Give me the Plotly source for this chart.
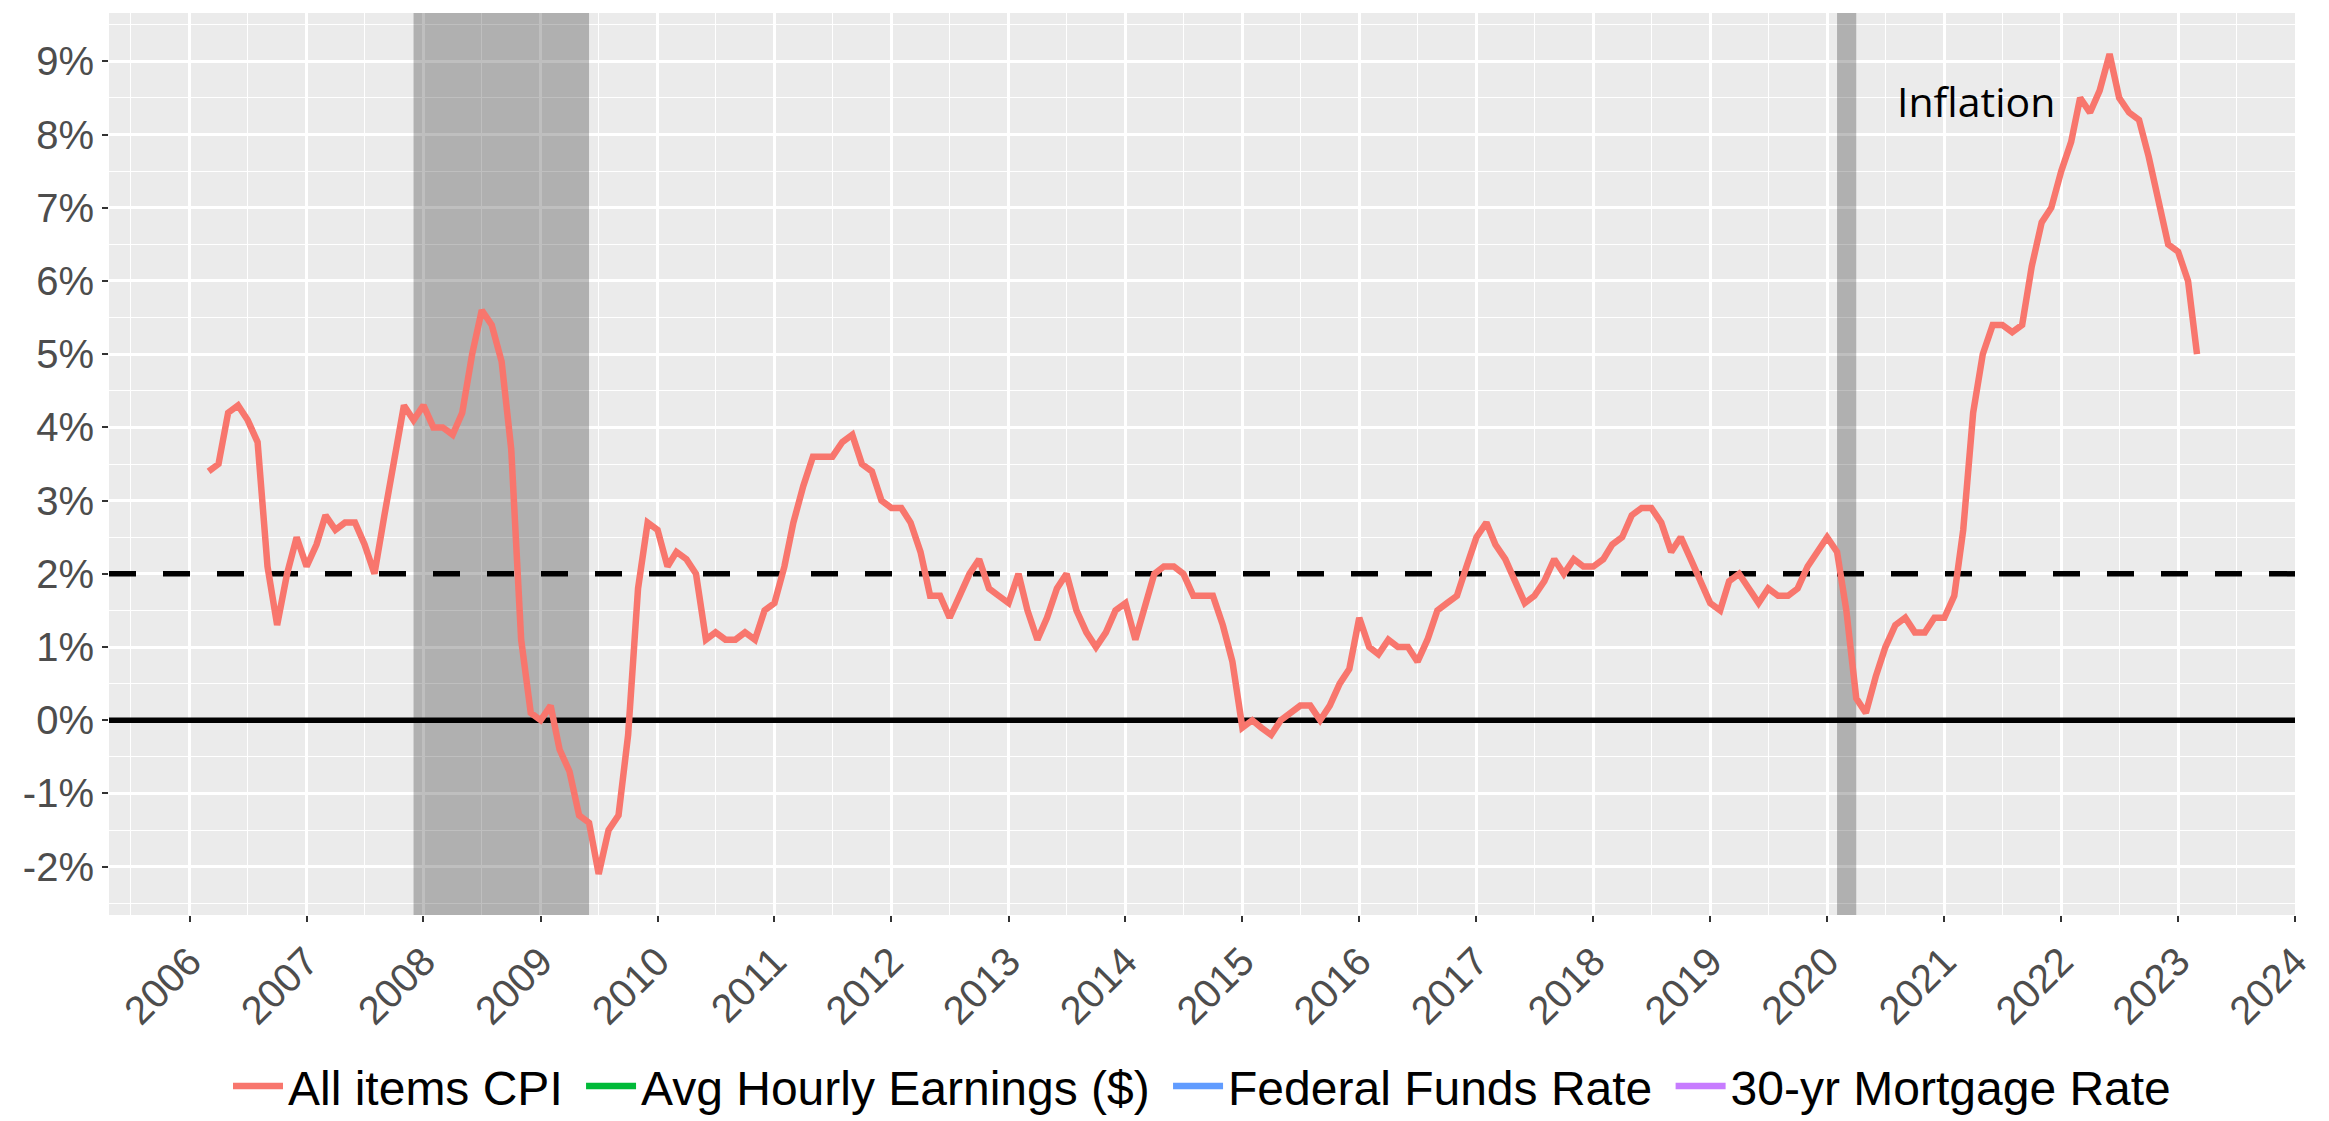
import pandas as pd
import plotly.graph_objects as go

# ---- data ----
start_month = "2006-03-01"
cpi_yoy = [
    # 2006 (Mar-Dec)
    3.4, 3.5, 4.2, 4.3, 4.1, 3.8, 2.1, 1.3, 2.0, 2.5,
    # 2007
    2.1, 2.4, 2.8, 2.6, 2.7, 2.7, 2.4, 2.0, 2.8, 3.5, 4.3, 4.1,
    # 2008
    4.3, 4.0, 4.0, 3.9, 4.2, 5.0, 5.6, 5.4, 4.9, 3.7, 1.1, 0.1,
    # 2009
    0.0, 0.2, -0.4, -0.7, -1.3, -1.4, -2.1, -1.5, -1.3, -0.2, 1.8, 2.7,
    # 2010
    2.6, 2.1, 2.3, 2.2, 2.0, 1.1, 1.2, 1.1, 1.1, 1.2, 1.1, 1.5,
    # 2011
    1.6, 2.1, 2.7, 3.2, 3.6, 3.6, 3.6, 3.8, 3.9, 3.5, 3.4, 3.0,
    # 2012
    2.9, 2.9, 2.7, 2.3, 1.7, 1.7, 1.4, 1.7, 2.0, 2.2, 1.8, 1.7,
    # 2013
    1.6, 2.0, 1.5, 1.1, 1.4, 1.8, 2.0, 1.5, 1.2, 1.0, 1.2, 1.5,
    # 2014
    1.6, 1.1, 1.5, 2.0, 2.1, 2.1, 2.0, 1.7, 1.7, 1.7, 1.3, 0.8,
    # 2015
    -0.1, 0.0, -0.1, -0.2, 0.0, 0.1, 0.2, 0.2, 0.0, 0.2, 0.5, 0.7,
    # 2016
    1.4, 1.0, 0.9, 1.1, 1.0, 1.0, 0.8, 1.1, 1.5, 1.6, 1.7, 2.1,
    # 2017
    2.5, 2.7, 2.4, 2.2, 1.9, 1.6, 1.7, 1.9, 2.2, 2.0, 2.2, 2.1,
    # 2018
    2.1, 2.2, 2.4, 2.5, 2.8, 2.9, 2.9, 2.7, 2.3, 2.5, 2.2, 1.9,
    # 2019
    1.6, 1.5, 1.9, 2.0, 1.8, 1.6, 1.8, 1.7, 1.7, 1.8, 2.1, 2.3,
    # 2020
    2.5, 2.3, 1.5, 0.3, 0.1, 0.6, 1.0, 1.3, 1.4, 1.2, 1.2, 1.4,
    # 2021
    1.4, 1.7, 2.6, 4.2, 5.0, 5.4, 5.4, 5.3, 5.4, 6.2, 6.8, 7.0,
    # 2022
    7.5, 7.9, 8.5, 8.3, 8.6, 9.1, 8.5, 8.3, 8.2, 7.7, 7.1, 6.5,
    # 2023 (Jan-Mar)
    6.4, 6.0, 5.0,
]
dates = pd.date_range(start_month, periods=len(cpi_yoy), freq="MS")

series_names = ["All items CPI", "Avg Hourly Earnings ($)", "Federal Funds Rate", "30-yr Mortgage Rate"]
series_colors = ["#F8766D", "#00BA38", "#619CFF", "#C77CFF"]

recessions = [("2007-12-01", "2009-06-01"), ("2020-02-01", "2020-04-01")]
target_rate = 2.0
zero_line = 0.0

x_limits = ["2005-04-24", "2024-01-01"]
y_limits = [-2.66, 9.66]
year_ticks = list(range(2006, 2025))
y_ticks = list(range(-2, 10))

annotation_text = "Inflation"
annotation_pos = ("2021-04-10", 8.46)

# ---- figure ----
fig = go.Figure()

# recession bands (drawn above gridlines, below the series)
for x0, x1 in recessions:
    fig.add_trace(go.Scatter(
        x=[x0, x0, x1, x1, x0], y=[y_limits[0], y_limits[1], y_limits[1], y_limits[0], y_limits[0]],
        mode="lines", fill="toself", fillcolor="rgba(0,0,0,0.25)",
        line=dict(width=0, color="rgba(0,0,0,0)"), showlegend=False, hoverinfo="skip",
    ))

# reference lines
fig.add_trace(go.Scatter(x=x_limits, y=[zero_line, zero_line], mode="lines",
                         line=dict(color="black", width=5.5), showlegend=False, hoverinfo="skip"))
fig.add_trace(go.Scatter(x=x_limits, y=[target_rate, target_rate], mode="lines",
                         line=dict(color="black", width=5.5, dash="27px,27px"),
                         showlegend=False, hoverinfo="skip"))

# legend spacing: a trailing no-break space between entries (as in the ggplot legend)
legend_labels = [n + "\u00a0" for n in series_names[:-1]] + [series_names[-1]]

fig.add_trace(go.Scatter(
    x=dates, y=cpi_yoy, mode="lines", name=legend_labels[0],
    line=dict(color=series_colors[0], width=6.5), showlegend=True,
))
for name, color in zip(legend_labels[1:], series_colors[1:]):
    fig.add_trace(go.Scatter(
        x=[None], y=[None], mode="lines", name=name,
        line=dict(color=color, width=6.5), showlegend=True,
    ))

fig.add_annotation(x=annotation_pos[0], y=annotation_pos[1], text=annotation_text,
                   showarrow=False, font=dict(family="Open Sans", size=41, color="black"),
                   xanchor="center", yanchor="middle")

tick_font = dict(family="Liberation Sans, Arial", size=40, color="#4D4D4D")

fig.update_xaxes(
    type="date",
    range=x_limits,
    tickvals=[f"{y}-01-01" for y in year_ticks],
    ticktext=[str(y) for y in year_ticks],
    tickangle=-45,
    tickfont=tick_font,
    showgrid=True, gridcolor="white", gridwidth=2.5,
    ticks="outside", ticklen=6, tickwidth=2, tickcolor="#333333",
    minor=dict(tickvals=[f"{y}-07-01" for y in range(2005, 2024)], showgrid=True,
               gridcolor="white", gridwidth=1.2, ticks=""),
    zeroline=False, showline=False, automargin=False,
)
fig.update_yaxes(
    range=y_limits,
    tickvals=y_ticks,
    ticktext=[f"{v}%" for v in y_ticks],
    tickfont=tick_font,
    showgrid=True, gridcolor="white", gridwidth=2.5,
    ticks="outside", ticklen=6, tickwidth=2, tickcolor="#333333",
    minor=dict(tickvals=[v + 0.5 for v in range(-3, 10)], showgrid=True,
               gridcolor="white", gridwidth=1.2, ticks=""),
    zeroline=False, showline=False, automargin=False,
)

fig.update_layout(
    width=2329, height=1121,
    margin=dict(l=101, r=42, t=5, b=205),
    paper_bgcolor="white", plot_bgcolor="#EBEBEB",
    font=dict(family="Liberation Sans, Arial", color="black"),
    legend=dict(orientation="h", x=0.5, xanchor="center",
                y=-0.19, yanchor="middle",
                font=dict(family="Liberation Sans, Arial", size=48, color="black"),
                bgcolor="rgba(0,0,0,0)", itemwidth=50),
)

fig.write_html("out.html")
